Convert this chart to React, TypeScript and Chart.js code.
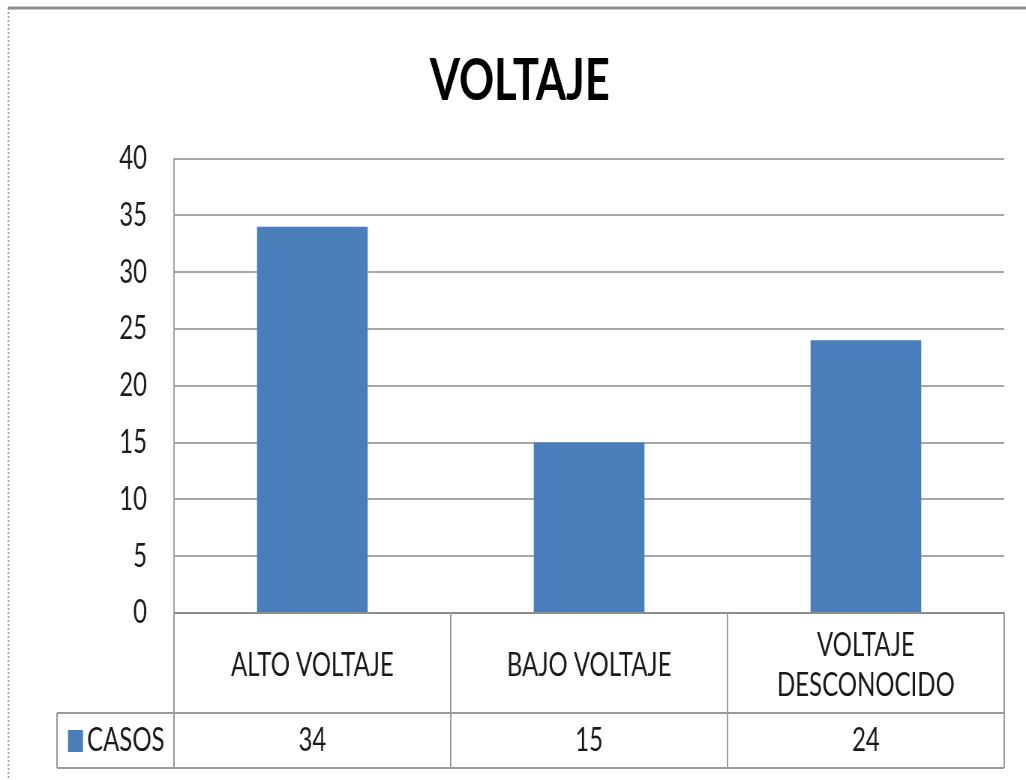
import { useEffect, useRef } from "react";
import { Chart, registerables } from "chart.js";

Chart.register(...registerables);

// ---- data ----
const categories: (string | string[])[] = ["ALTO VOLTAJE", "BAJO VOLTAJE", ["VOLTAJE", "DESCONOCIDO"]];
const casos: number[] = [34, 15, 24];
const seriesName = "CASOS";
const chartTitle = "VOLTAJE";
const yMin = 0;
const yMax = 40;
const yStep = 5;

// ---- look ----
const FONT = "Lato, 'Open Sans', sans-serif";
const BAR = "#4a7ebb";
const S = 0.75; // horizontal squeeze of the reference (display px / canvas px)
const IW = Math.round(1026 / S);
const IH = 780;
const X = (d: number) => d / S;

const tablePlugin = {
  id: "dataTable",
  beforeDraw(chart: any) {
    const ctx = chart.ctx;
    ctx.save();
    ctx.fillStyle = "#ffffff";
    ctx.fillRect(0, 0, chart.width, chart.height);
    ctx.restore();
  },
  afterDraw(chart: any) {
    const ctx = chart.ctx;
    const xs = chart.scales.x;
    const ca = chart.chartArea;
    const n = categories.length;
    const cw = (xs.right - xs.left) / n;
    const row1 = 713;
    const row2 = 768;
    const legendLeft = X(57);
    ctx.save();
    // outer frame
    ctx.strokeStyle = "#8c8c8c";
    ctx.lineWidth = 3;
    ctx.beginPath();
    ctx.moveTo(X(8), 8);
    ctx.lineTo(chart.width, 8);
    ctx.stroke();
    ctx.lineWidth = 2;
    ctx.strokeStyle = "#9a9a9a";
    ctx.setLineDash([2, 2]);
    ctx.beginPath();
    ctx.moveTo(X(8.5), 8);
    ctx.lineTo(X(8.5), chart.height);
    ctx.stroke();
    ctx.setLineDash([]);

    // table lines
    ctx.strokeStyle = "#9a9a9a";
    ctx.lineWidth = 2;
    ctx.beginPath();
    for (let i = 0; i <= n; i++) {
      const x = xs.left + i * cw;
      ctx.moveTo(x, ca.bottom);
      ctx.lineTo(x, row2);
    }
    ctx.moveTo(legendLeft, row1);
    ctx.lineTo(legendLeft, row2);
    ctx.moveTo(legendLeft, row1);
    ctx.lineTo(xs.right, row1);
    ctx.moveTo(legendLeft, row2);
    ctx.lineTo(xs.right, row2);
    ctx.stroke();

    // values row
    ctx.fillStyle = "#1a1a1a";
    ctx.font = `32px ${FONT}`;
    ctx.textAlign = "center";
    ctx.textBaseline = "middle";
    casos.forEach((v, i) => {
      ctx.fillText(String(v), xs.getPixelForValue(i), 741);
    });
    // legend key
    ctx.fillStyle = BAR;
    ctx.fillRect(X(68), 730, X(15), 22);
    ctx.fillStyle = "#1a1a1a";
    ctx.textAlign = "left";
    ctx.fillText(seriesName, X(87), 741);
    ctx.restore();
  },
};

export default function App() {
  const ref = useRef<HTMLCanvasElement | null>(null);
  useEffect(() => {
    if (!ref.current) return;
    const chart = new Chart(ref.current, {
      type: "bar",
      data: {
        labels: categories as any,
        datasets: [
          {
            label: seriesName,
            data: casos,
            backgroundColor: BAR,
            borderWidth: 0,
            barPercentage: 0.4,
            categoryPercentage: 1,
          },
        ],
      },
      options: {
        responsive: false,
        animation: false,
        devicePixelRatio: 1,
        layout: { padding: { left: 47, right: 29, top: 8, bottom: 0 } },
        plugins: {
          legend: { display: false },
          tooltip: { enabled: false },
          title: {
            display: true,
            text: chartTitle,
            color: "#000000",
            font: { family: FONT, size: 58, weight: "bold" },
            padding: { top: 38, bottom: 43 },
          },
        },
        scales: {
          x: {
            type: "category",
            offset: true,
            grid: { display: false, drawTicks: false },
            border: { display: true, color: "#8c8c8c", width: 2 },
            ticks: {
              font: { family: FONT, size: 32, lineHeight: 1.25 },
              color: "#1a1a1a",
              padding: 33,
              maxRotation: 0,
              minRotation: 0,
              autoSkip: false,
              crossAlign: "center",
            },
            afterFit: (s: any) => {
              s.height = 167;
            },
          },
          y: {
            min: yMin,
            max: yMax,
            ticks: {
              stepSize: yStep,
              font: { family: FONT, size: 32 },
              color: "#1a1a1a",
              padding: 36,
            },
            grid: { color: "#a6a6a6", lineWidth: 2, drawTicks: false },
            border: { display: true, color: "#a6a6a6", width: 2 },
            afterFit: (s: any) => {
              s.width = 185;
            },
          },
        },
      } as any,
      plugins: [tablePlugin],
    });
    return () => chart.destroy();
  }, []);

  return (
    <div style={{ position: "absolute", left: 0, top: 0, width: 1026, height: 780, background: "#fff" }}>
      <canvas ref={ref} width={IW} height={IH} style={{ width: "1026px", height: "780px", display: "block" }} />
    </div>
  );
}
